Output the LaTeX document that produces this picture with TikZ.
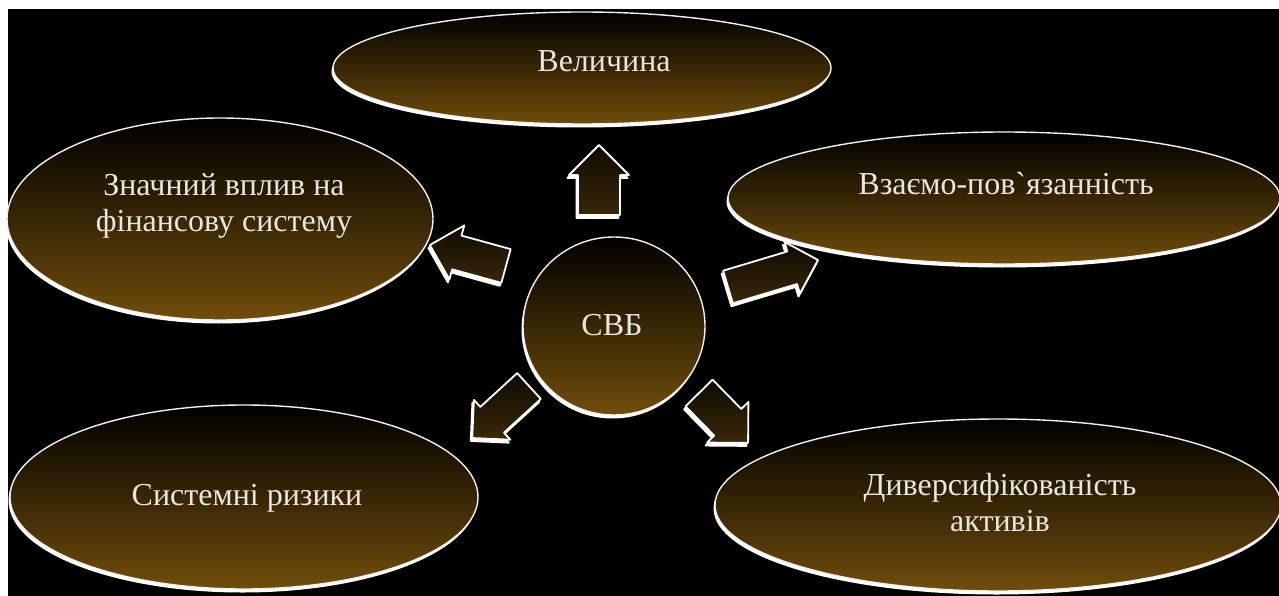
\documentclass[tikz,border=0pt]{standalone}
\usepackage{fontspec}
\setmainfont{Liberation Serif}[Ligatures=TeXOff]
\usetikzlibrary{shapes.geometric}

\definecolor{bronze}{RGB}{112,77,11}
\definecolor{txt}{RGB}{232,230,224}
\definecolor{arrowtop}{RGB}{14,10,3}
\definecolor{arrowbot}{RGB}{58,40,8}

\tikzset{
  bubble/.style={ellipse, inner sep=0pt, top color=black, bottom color=bronze,
                 draw=white!88!gray, line width=1.4pt},
  bubbleback/.style={ellipse, inner sep=0pt, fill=white},
  lbl/.style={text=txt, font=\fontsize{32}{36}\selectfont, align=center, inner sep=0pt},
  blockarrow/.style={top color=arrowtop, bottom color=arrowbot, draw=white,
                     line width=1.8pt, line join=round},
  arrowback/.style={fill=white, draw=white, line width=1.8pt, line join=round},
}

% block arrow: tail centre (x,y), angle, length, shaft half-width, head half-width
\newcommand\blockarrow[6]{%
  \filldraw[arrowback, shift={(#1-1.5,#2-3)}, rotate=#3]
    (0,-#5) -- (#4-#6,-#5) -- (#4-#6,-#6) -- (#4,0) -- (#4-#6,#6) -- (#4-#6,#5) -- (0,#5) -- cycle;
  \draw[blockarrow, shift={(#1,#2)}, rotate=#3]
    (0,-#5) -- (#4-#6,-#5) -- (#4-#6,-#6) -- (#4,0) -- (#4-#6,#6) -- (#4-#6,#5) -- (0,#5) -- cycle;
}

% ellipse with a white rim that is heavier along its lower edge
\newcommand\bubblenode[5]{% name, x, y, width, height
  \node[bubbleback, minimum width=#4pt, minimum height=#5pt] (#1-rim) at (#2-1.5,#3-3.5) {};
  \node[bubble, minimum width=#4pt, minimum height=#5pt] (#1) at (#2,#3) {};
}

\begin{document}
\begin{tikzpicture}[x=1pt, y=1pt]
  \useasboundingbox (0,0) rectangle (1279,-596);
  \fill[white] (0,0) rectangle (1279,-596);
  \fill[black] (8,-9) rectangle (1279,-596);

  % outer bubbles
  \bubblenode{size}{582}{-68}{498}{112}
  \bubblenode{influence}{220}{-219}{426}{202}
  \bubblenode{links}{1004}{-198}{552}{132}
  \bubblenode{risks}{244}{-497}{468}{184}
  \bubblenode{assets}{998}{-505}{566}{172}

  % central circle
  \bubblenode{core}{614}{-326}{182}{178}

  % block arrows from the centre outwards
  \blockarrow{599}{-215}{90}{70}{21}{30}
  \blockarrow{728}{-287}{16.7}{94}{17}{27}
  \blockarrow{506}{-266}{164.6}{79}{17.5}{28}
  \blockarrow{529}{-386}{222.5}{77}{17.5}{27}
  \blockarrow{699}{-393}{-45.5}{70}{19}{29}

  % labels
  \node[lbl, anchor=base] (size-t) at (604,-72) {Величина};
  \node[lbl] (influence-t) at (224,-206) {Значний вплив на\\фінансову систему};
  \node[lbl, anchor=base] (links-t) at (1006,-195) {Взаємо-пов`язанність};
  \node[lbl, anchor=base] (core-t) at (612,-335) {СВБ};
  \node[lbl, anchor=base] (risks-t) at (247,-505) {Системні ризики};
  \node[lbl] (assets-t) at (1000,-503) {Диверсифікованість\\активів};
\end{tikzpicture}
\end{document}
